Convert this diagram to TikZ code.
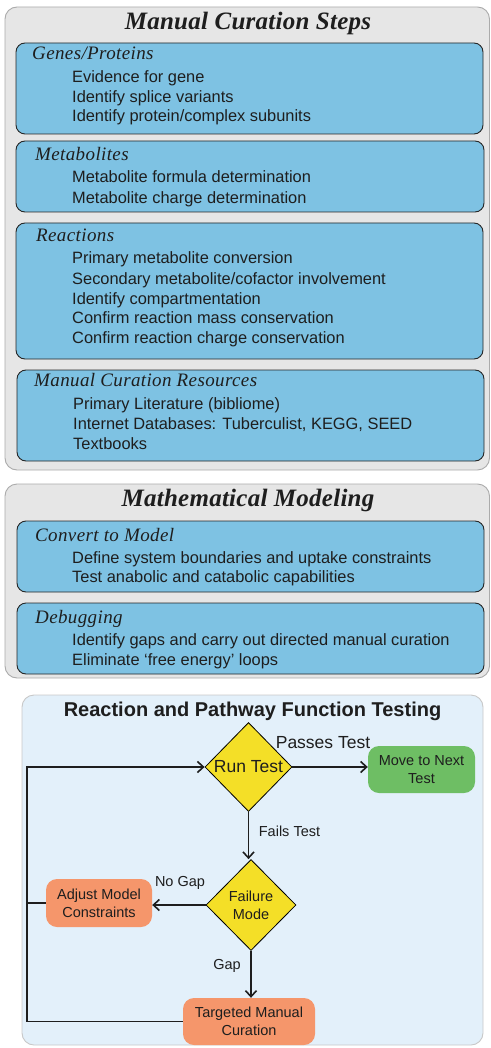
\documentclass[tikz,border=0pt]{standalone}
\usepackage{fontspec}
\setmainfont{Liberation Serif}
\setsansfont{Liberation Sans}
\newfontfamily\headfont[LetterSpace=2]{Liberation Serif}
\newfontfamily\titlefont[LetterSpace=1]{Liberation Serif}
\usetikzlibrary{shapes.geometric,arrows.meta}

\definecolor{panelgray}{HTML}{E6E6E6}
\definecolor{panelline}{HTML}{ABABAB}
\definecolor{cardblue}{HTML}{7EC2E3}
\definecolor{testbg}{HTML}{E3F0FA}
\definecolor{testline}{HTML}{C8C8C8}
\definecolor{decision}{HTML}{F4DF27}
\definecolor{okgreen}{HTML}{6EBE64}
\definecolor{actorange}{HTML}{F5966B}
\definecolor{ink}{HTML}{1E1E1E}

\begin{document}
\begin{tikzpicture}[x=1pt,y=-1pt,
  panel/.style={draw=panelline, fill=panelgray, line width=0.9pt, rounded corners=12pt},
  card/.style={draw=black!85, fill=cardblue, line width=0.9pt, rounded corners=9pt},
  paneltitle/.style={anchor=base, inner sep=0pt, text=ink,
    font=\titlefont\fontsize{25}{28}\selectfont\bfseries\itshape},
  cardhead/.style={anchor=base west, inner sep=0pt, text=ink,
    font=\headfont\fontsize{19}{22}\selectfont\itshape},
  item/.style={anchor=base west, inner sep=0pt, text=ink,
    font=\sffamily\fontsize{16.4}{19}\selectfont},
  testtitle/.style={anchor=base, inner sep=0pt, text=ink,
    font=\sffamily\bfseries\fontsize{20}{23}\selectfont},
  decide/.style={diamond, draw=black, line width=0.8pt, fill=decision, inner sep=0pt,
    text=ink, align=center},
  result/.style={rounded corners=11pt, inner sep=0pt, text=ink, align=center,
    font=\sffamily\fontsize{14.5}{18}\selectfont},
  flowlabel/.style={inner sep=0pt, text=ink, font=\sffamily\fontsize{14.5}{17}\selectfont},
  flow/.style={draw=ink, line width=1.8pt},
  tip/.style={-{Straight Barb[length=6pt,width=11pt,line width=1.6pt]}}
]
\useasboundingbox (0,0) rectangle (490,1048);
\clip (0,0) rectangle (490,1048);

% ---------- Manual curation panel ----------
\draw[panel] (5,7) rectangle (489.5,470);
\node[paneltitle] (mcs) at (248,30) {Manual Curation Steps};

\draw[card] (16,43) rectangle (483,134);
\node[cardhead] (gh) at (32,59.3) {Genes/Proteins};
\node[item] (g1) at (72,82.3)  {Evidence for gene};
\node[item] (g2) at (72,102.2) {Identify splice variants};
\node[item] (g3) at (72,121.7) {Identify protein/complex subunits};

\draw[card] (16,141) rectangle (484,212);
\node[cardhead] (mh) at (35,160.7) {Metabolites};
\node[item] (m1) at (72,183)   {Metabolite formula determination};
\node[item] (m2) at (72,203.3) {Metabolite charge determination};

\draw[card] (16,223) rectangle (483,359);
\node[cardhead] (rh) at (36,241.7) {Reactions};
\node[item] (r1) at (72,264)   {Primary metabolite conversion};
\node[item] (r2) at (72,284)   {Secondary metabolite/cofactor involvement};
\node[item] (r3) at (72,304)   {Identify compartmentation};
\node[item] (r4) at (72,323.3) {Confirm reaction mass conservation};
\node[item] (r5) at (72,343)   {Confirm reaction charge conservation};

\draw[card] (17,370) rectangle (484,461);
\node[cardhead] (sh) at (34,386) {Manual Curation Resources};
\node[item] (s1) at (73,409) {Primary Literature (bibliome)};
\node[item] (s2) at (73,429) {Internet Databases: Tuberculist, KEGG, SEED};
\node[item] (s3) at (73,449) {Textbooks};

% ---------- Mathematical modeling panel ----------
\draw[panel] (5,484) rectangle (489.5,678);
\node[paneltitle] (mm) at (248,506.7) {Mathematical Modeling};

\draw[card] (17,521) rectangle (484,592);
\node[cardhead] (ch) at (35,541) {Convert to Model};
\node[item] (c1) at (72,563.3) {Define system boundaries and uptake constraints};
\node[item] (c2) at (72,582.3) {Test anabolic and catabolic capabilities};

\draw[card] (17,603) rectangle (484,674);
\node[cardhead] (dh) at (35,623.3) {Debugging};
\node[item] (d1) at (72,645.7) {Identify gaps and carry out directed manual curation};
\node[item] (d2) at (72,665)   {Eliminate `free energy' loops};

% ---------- Function testing flowchart ----------
\draw[draw=testline, fill=testbg, line width=0.9pt, rounded corners=12pt] (22,695) rectangle (483,1045);
\node[testtitle] (tt) at (252.5,716.7) {Reaction and Pathway Function Testing};

\node[decide, minimum width=87pt, minimum height=89pt,
  font=\sffamily\fontsize{17.5}{20}\selectfont] (run) at (248.5,767) {Run Test};
\node[decide, minimum width=90pt, minimum height=91pt,
  font=\sffamily\fontsize{14.5}{18}\selectfont] (fail) at (251,905) {Failure\\Mode};

\node[result, fill=okgreen, minimum width=107pt, minimum height=47pt] (next) at (421.5,769.5) {Move to Next\\Test};
\node[result, fill=actorange, minimum width=106pt, minimum height=48pt] (adjust) at (99,903) {Adjust Model\\Constraints};
\node[result, fill=actorange, minimum width=132pt, minimum height=47pt] (target) at (249,1021.5) {Targeted Manual\\Curation};

\coordinate (looptop) at (27,767);

\draw[flow,tip] (run.east) -- (run.east -| next.west);
\draw[flow,tip] (run.south) -- (run.south |- fail.north);
\draw[flow,tip] (fail.west) -- (fail.west -| adjust.east);
\draw[flow,tip] (fail.south) -- (fail.south |- target.north);
\draw[flow,tip] (target.west) -| (looptop) -- (run.west);
\draw[flow] (adjust.west) -- (adjust.west -| looptop);

\node[flowlabel, font=\sffamily\fontsize{17.5}{20}\selectfont] (pass) at (323,743) {Passes Test};
\node[flowlabel] (fails) at (289.5,831) {Fails Test};
\node[flowlabel] (nogap) at (180,883) {No Gap};
\node[flowlabel] (gap) at (227,966) {Gap};
\end{tikzpicture}
\end{document}
